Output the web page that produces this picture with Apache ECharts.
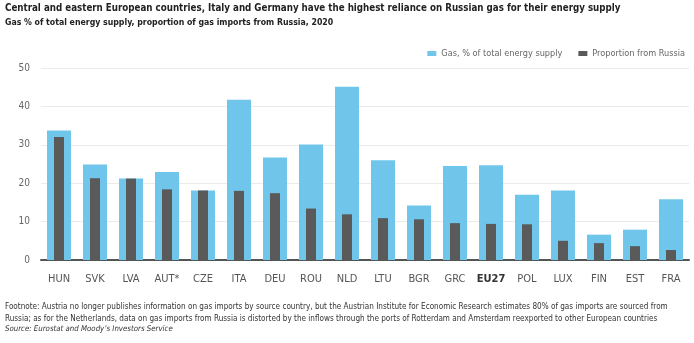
<!DOCTYPE html>
<html><head><meta charset="utf-8">
<script src="https://cdn.jsdelivr.net/npm/echarts@6/dist/echarts.min.js"></script>
<style>html,body{margin:0;padding:0;background:#fff}#c{width:694px;height:343px}</style>
</head><body><div id="c"></div>
<script>
const categories = ['HUN','SVK','LVA','AUT*','CZE','ITA','DEU','ROU','NLD','LTU','BGR','GRC','EU27','POL','LUX','FIN','EST','FRA'];
const gasShare = [33.7,24.9,21.2,22.9,18.1,41.7,26.7,30.1,45.1,26.0,14.2,24.5,24.7,17.0,18.1,6.6,7.9,15.8];
const russiaShare = [32.0,21.3,21.2,18.4,18.1,18.0,17.4,13.4,11.9,10.9,10.6,9.6,9.4,9.3,5.0,4.4,3.6,2.6];
const yTicks = [0,10,20,30,40,50];

const TITLE = 'Central and eastern European countries, Italy and Germany have the highest reliance on Russian gas for their energy supply';
const SUBTITLE = 'Gas % of total energy supply, proportion of gas imports from Russia, 2020';
const FOOT = 'Footnote: Austria no longer publishes information on gas imports by source country, but the Austrian Institute for Economic Research estimates 80% of gas imports are sourced from\nRussia; as for the Netherlands, data on gas imports from Russia is distorted by the inflows through the ports of Rotterdam and Amsterdam reexported to other European countries';
const SOURCE = 'Source: Eurostat and Moody\u2019s Investors Service';

// pick an installed narrow font
const ctx = document.createElement('canvas').getContext('2d');
function w(font, txt){ ctx.font = font; return ctx.measureText(txt).width; }
function has(fam){
  const t='abcdefghijklmnopqrstuvwxyz0123456789';
  return w('20px "'+fam+'", monospace',t)!==w('20px monospace',t) || w('20px "'+fam+'", serif',t)!==w('20px serif',t);
}
const cands = ['DejaVu Sans Condensed','Liberation Sans Narrow','Lato','Noto Sans','Open Sans','Roboto'];
let FAM = 'sans-serif';
for (const c of cands){ if (has(c)){ FAM = c; break; } }
const FONT = '"'+FAM+'", sans-serif';
function fit(weight, style, txt, target){
  const base = w(style+' '+weight+' 20px '+FONT, txt);
  return Math.round(20*target/base*10)/10;
}
const titleSize = fit('bold','normal',TITLE,614);
const subSize = fit('bold','normal',SUBTITLE,329);
const footSize = fit('normal','normal',FOOT.split('\n')[0],663);
const srcSize = fit('normal','italic',SOURCE,167);
const legSize = fit('normal','normal','Gas, % of total energy supply',121);
const axSize = Math.min(13, fit('normal','normal','HUN',22));

const chart = echarts.init(document.getElementById('c'));
chart.setOption({
  animation:false,
  textStyle:{fontFamily:FONT},
  grid:{left:41,right:5,top:68,bottom:83},
  legend:{
    top:44,right:4,itemWidth:9,itemHeight:5,itemGap:16,
    icon:'rect',
    textStyle:{fontFamily:FONT,fontSize:legSize,color:'#666'},
    data:['Gas, % of total energy supply','Proportion from Russia']
  },
  xAxis:[{
    type:'category',data:categories,
    axisLine:{lineStyle:{color:'#555',width:2}},
    axisTick:{show:false},
    axisLabel:{interval:0,fontFamily:FONT,fontSize:axSize,color:'#555',margin:14,
      formatter:v=> v==='EU27' ? '{b|'+v+'}' : v,
      rich:{b:{fontFamily:FONT,fontSize:axSize,fontWeight:'bold',color:'#333'}}}
  },{
    type:'category',data:categories,show:false
  }],
  yAxis:{
    type:'value',min:0,max:50,interval:10,
    axisLine:{show:false},axisTick:{show:false},
    splitLine:{lineStyle:{color:'#ebebeb',width:1}},
    axisLabel:{fontFamily:FONT,fontSize:axSize-1,color:'#666',margin:11,
      formatter:v=> yTicks.includes(v)? String(v):''}
  },
  series:[
    {name:'Gas, % of total energy supply',type:'bar',data:gasShare,barWidth:24,xAxisIndex:0,
     itemStyle:{color:'#6fc6ea'}},
    {name:'Proportion from Russia',type:'bar',data:russiaShare,barWidth:10,xAxisIndex:1,
     itemStyle:{color:'#5a5a5a'}}
  ],
  graphic:[
    {type:'text',left:5,top:3,style:{text:TITLE,font:'bold '+titleSize+'px '+FONT,fill:'#222'}},
    {type:'text',left:5,top:18,style:{text:SUBTITLE,font:'bold '+subSize+'px '+FONT,fill:'#222'}},
    {type:'text',left:5,top:301,style:{text:FOOT,font:footSize+'px '+FONT,fill:'#333',lineHeight:12}},
    {type:'text',left:5,top:325,style:{text:SOURCE,font:'italic '+srcSize+'px '+FONT,fill:'#333'}}
  ]
});
</script></body></html>
